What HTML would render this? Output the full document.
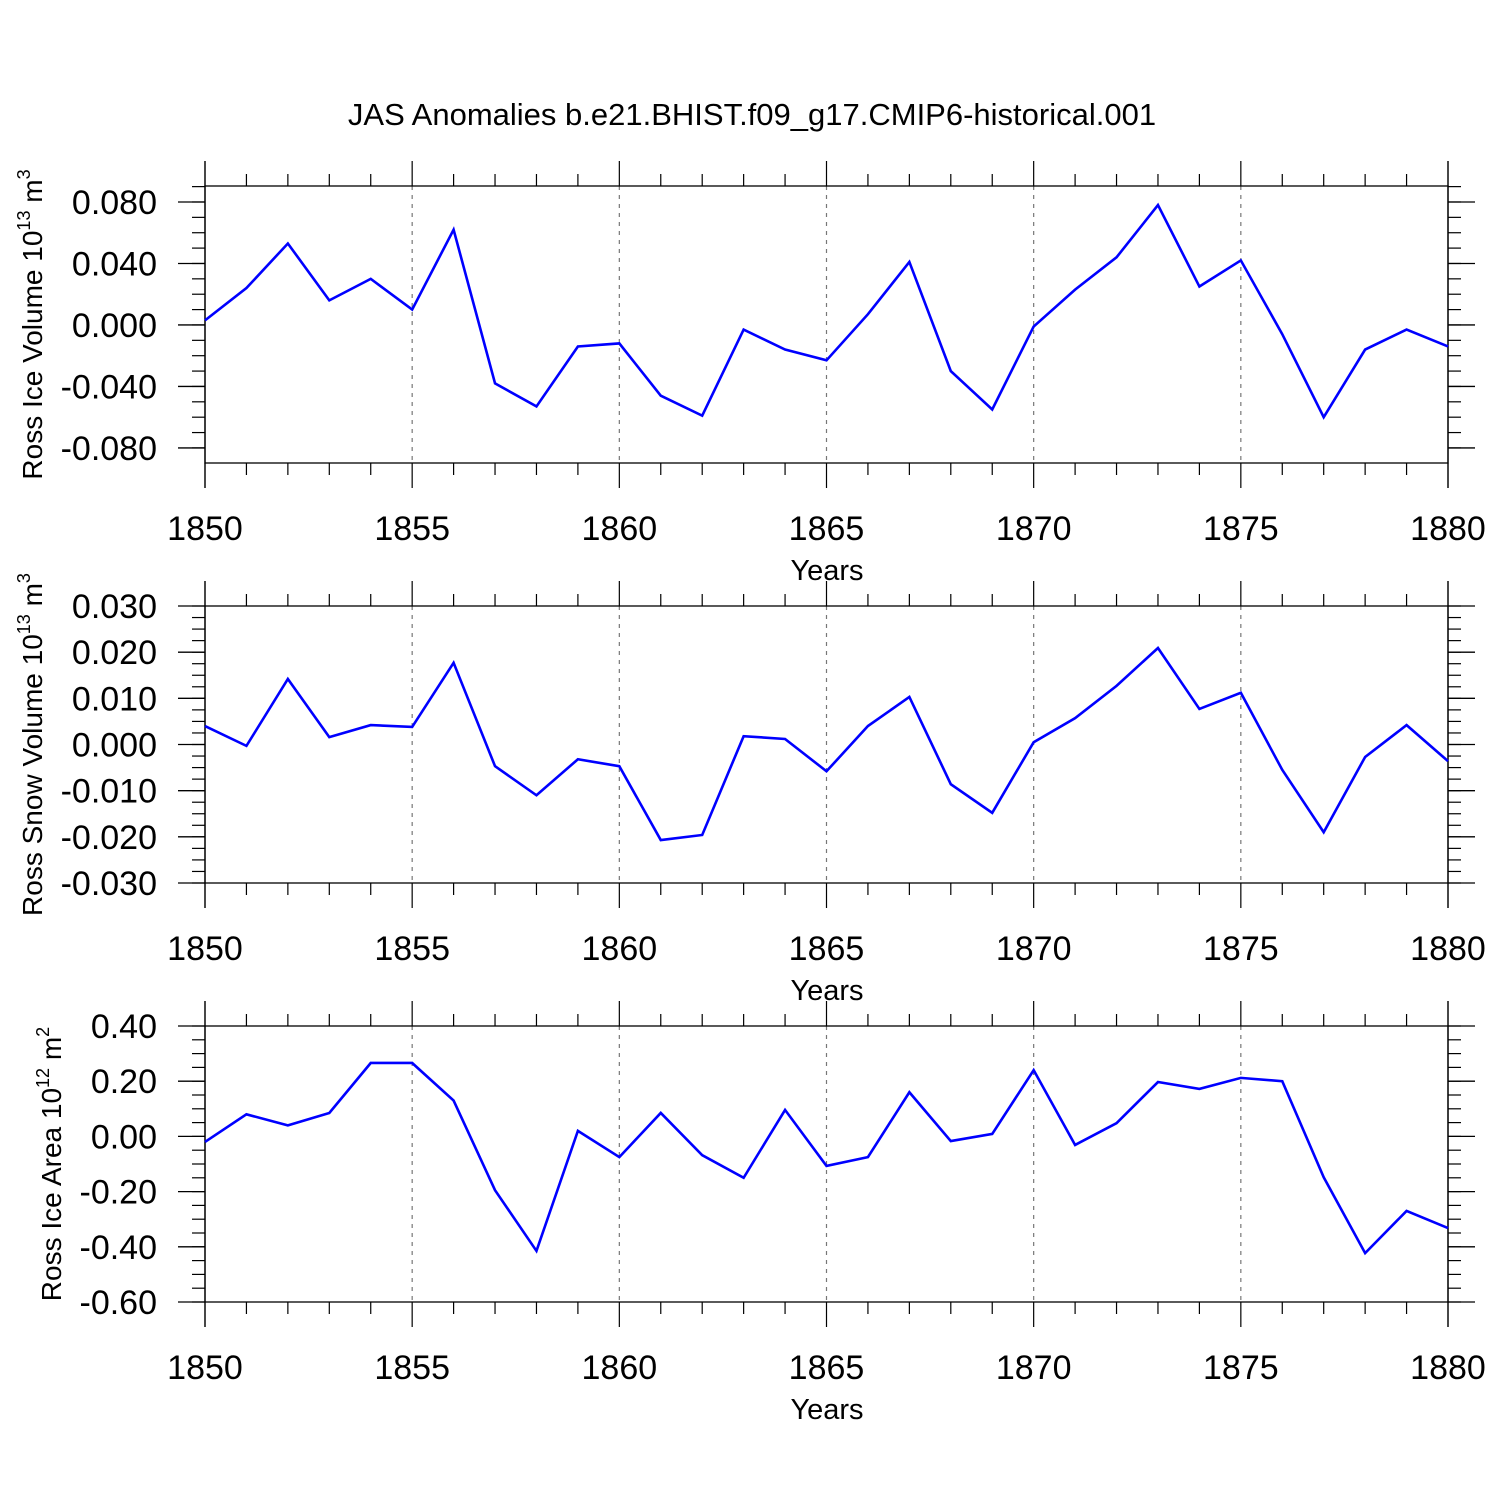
<!DOCTYPE html>
<html><head><meta charset="utf-8"><style>
html,body{margin:0;padding:0;background:#fff}
svg{display:block;font-family:"Liberation Sans",sans-serif}
</style></head><body>
<svg id="chart" width="1500" height="1500" viewBox="0 0 1500 1500">
<text x="752" y="125" font-size="31" text-anchor="middle">JAS Anomalies b.e21.BHIST.f09_g17.CMIP6-historical.001</text>
</svg>
<script>
const years = [1850,1851,1852,1853,1854,1855,1856,1857,1858,1859,1860,1861,1862,1863,1864,1865,1866,1867,1868,1869,1870,1871,1872,1873,1874,1875,1876,1877,1878,1879,1880];
const iceVolume = [0.003,0.024,0.053,0.016,0.030,0.010,0.062,-0.038,-0.053,-0.014,-0.012,-0.046,-0.059,-0.003,-0.016,-0.023,0.007,0.041,-0.030,-0.055,-0.001,0.023,0.044,0.078,0.025,0.042,-0.006,-0.060,-0.016,-0.003,-0.014];
const snowVolume = [0.0040,-0.0003,0.0142,0.0016,0.0042,0.0038,0.0177,-0.0047,-0.0110,-0.0032,-0.0047,-0.0207,-0.0196,0.0018,0.0012,-0.0058,0.0040,0.0103,-0.0086,-0.0148,0.0005,0.0057,0.0127,0.0209,0.0077,0.0112,-0.0055,-0.0190,-0.0027,0.0042,-0.0036];
const iceArea = [-0.02,0.08,0.04,0.085,0.266,0.266,0.13,-0.195,-0.415,0.02,-0.075,0.085,-0.068,-0.15,0.096,-0.107,-0.075,0.16,-0.017,0.009,0.24,-0.031,0.048,0.197,0.172,0.212,0.20,-0.148,-0.423,-0.27,-0.332];
const xTickLabels = ["1850","1855","1860","1865","1870","1875","1880"];
const iceVolTicks = ["0.080","0.040","0.000","-0.040","-0.080"];
const snowTicks = ["0.030","0.020","0.010","0.000","-0.010","-0.020","-0.030"];
const areaTicks = ["0.40","0.20","0.00","-0.20","-0.40","-0.60"];

const svg = document.getElementById('chart');
const NS = 'http://www.w3.org/2000/svg';
function mk(tag, attrs){const e=document.createElementNS(NS,tag);for(const k in attrs)e.setAttribute(k,attrs[k]);svg.appendChild(e);return e;}
const X0=205,X1=1448;
const xs = y => X0 + (y-1850)/(30)*(X1-X0);

const panels = [
 {top:186,bot:463,ymin:-0.0898,ymax:0.0904,ticks:iceVolTicks,minor:0.01,data:iceVolume,name:'ice-volume',title:'Ross Ice Volume 10',sup:'13',unit:' m',usup:'3',tx:42},
 {top:606,bot:883,ymin:-0.030,ymax:0.030,ticks:snowTicks,minor:0.0025,data:snowVolume,name:'snow-volume',title:'Ross Snow Volume 10',sup:'13',unit:' m',usup:'3',tx:42},
 {top:1026,bot:1302,ymin:-0.60,ymax:0.40,ticks:areaTicks,minor:0.05,data:iceArea,name:'ice-area',title:'Ross Ice Area 10',sup:'12',unit:' m',usup:'2',tx:61}
];

panels.forEach(p=>{
  const ys = v => p.bot - (v-p.ymin)/(p.ymax-p.ymin)*(p.bot-p.top);
  const g = mk('g',{});
  
  
  for(let yr=1855; yr<1880; yr+=5){
    const l=mk('line',{x1:xs(yr),x2:xs(yr),y1:p.top,y2:p.bot,stroke:'#777','stroke-width':1.2,'stroke-dasharray':'4,5'});
    
    
  }
  const f=mk('rect',{x:X0,y:p.top,width:X1-X0,height:p.bot-p.top,fill:'none',stroke:'#000','stroke-width':1.3});
  
  
  years.forEach(yr=>{
    const major = (yr-1850)%5===0;
    const len = major?25:12;
    mk('line',{x1:xs(yr),x2:xs(yr),y1:p.top-len,y2:p.top,stroke:'#000','stroke-width':1.2});
    mk('line',{x1:xs(yr),x2:xs(yr),y1:p.bot,y2:p.bot+len,stroke:'#000','stroke-width':1.2});
  });
  xTickLabels.forEach(s=>{
    const t=mk('text',{x:xs(+s),y:p.bot+77,'font-size':34,'text-anchor':'middle'});
    t.textContent=s;
    
    
  });
  const xt=mk('text',{x:827,y:p.bot+117,'font-size':29,'text-anchor':'middle'});
  xt.textContent='Years';
  
  
  const n0=Math.ceil(p.ymin/p.minor-1e-6), n1=Math.floor(p.ymax/p.minor+1e-6);
  for(let i=n0;i<=n1;i++){
    const y=ys(i*p.minor);
    mk('line',{x1:X0-13,x2:X0,y1:y,y2:y,stroke:'#000','stroke-width':1.2});
    mk('line',{x1:X1,x2:X1+13,y1:y,y2:y,stroke:'#000','stroke-width':1.2});
  }
  p.ticks.forEach(s=>{
    const y=ys(parseFloat(s));
    mk('line',{x1:X0-27,x2:X0,y1:y,y2:y,stroke:'#000','stroke-width':1.3});
    mk('line',{x1:X1,x2:X1+27,y1:y,y2:y,stroke:'#000','stroke-width':1.3});
    const t=mk('text',{x:157,y:y+12,'font-size':34,'text-anchor':'end'});
    t.textContent=s;
    
    
  });
  mk('line',{x1:X0,x2:X0,y1:p.top-25,y2:p.bot+25,stroke:'#000','stroke-width':1.3});
  mk('line',{x1:X1,x2:X1,y1:p.top-25,y2:p.bot+25,stroke:'#000','stroke-width':1.3});
  const cy=(p.top+p.bot)/2;
  const yt=mk('text',{x:0,y:0,'font-size':28,'text-anchor':'middle',transform:`translate(${p.tx},${cy}) rotate(-90)`});
  yt.innerHTML=`${p.title}<tspan font-size="18" dy="-12">${p.sup}</tspan><tspan dy="12">${p.unit}</tspan><tspan font-size="18" dy="-12">${p.usup}</tspan>`;
  
  
  const pts=p.data.map((v,i)=>xs(years[i])+','+ys(v)).join(' ');
  const pl=mk('polyline',{points:pts,fill:'none',stroke:'#0000ff','stroke-width':2.6,'stroke-linejoin':'miter'});
  
  
});
</script>
</body></html>
